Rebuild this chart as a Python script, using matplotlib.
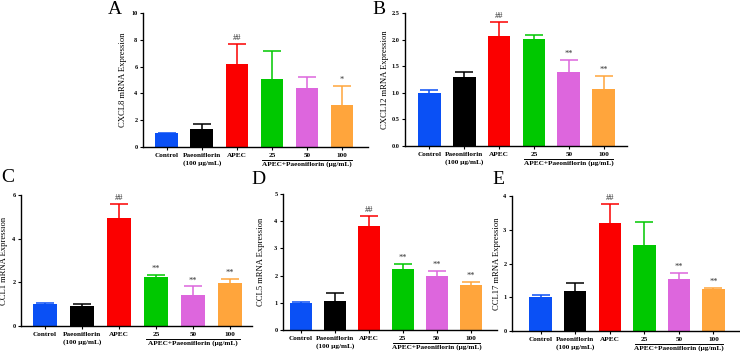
import matplotlib
matplotlib.use("Agg")
import matplotlib.pyplot as plt
from matplotlib.lines import Line2D

plt.rcParams['font.family'] = ['Liberation Serif', 'DejaVu Serif']
plt.rcParams['font.weight'] = 'bold'

# groups and colours
groups = ["Control", "Paeoniflorin\n(100 μg/mL)", "APEC", "25", "50", "100"]
colors = ["#0a50f5", "#000000", "#fb0000", "#00c800", "#dd66dd", "#ffa53c"]

# values (mean, upper error end)
cxcl8 = [1.02, 1.37, 6.17, 5.06, 4.44, 3.12]
cxcl8_top = [1.05, 1.69, 7.66, 7.20, 5.19, 4.54]
cxcl8_sig = ["", "", "##", "", "", "*"]

cxcl12 = [1.00, 1.29, 2.06, 2.02, 1.39, 1.075]
cxcl12_top = [1.06, 1.40, 2.33, 2.09, 1.61, 1.32]
cxcl12_sig = ["", "", "##", "", "**", "**"]

ccl1 = [0.99, 0.91, 4.93, 2.26, 1.41, 1.98]
ccl1_top = [1.07, 1.00, 5.60, 2.32, 1.81, 2.17]
ccl1_sig = ["", "", "##", "**", "**", "**"]

ccl5 = [1.00, 1.05, 3.84, 2.25, 1.98, 1.65]
ccl5_top = [1.03, 1.35, 4.19, 2.44, 2.16, 1.77]
ccl5_sig = ["", "", "##", "**", "**", "**"]

ccl17 = [1.00, 1.18, 3.21, 2.56, 1.53, 1.24]
ccl17_top = [1.06, 1.41, 3.76, 3.24, 1.71, 1.27]
ccl17_sig = ["", "", "##", "", "**", "**"]

W, H = 740, 353
fig = plt.figure(figsize=(W / 100, H / 100), dpi=100)


def panel(box, xlim, vals, tops, sig, ymax, ystep, ylabel, letter, letter_xy, ylab_dx, fmt="{:g}"):
    l, t, r, b = box
    ax = fig.add_axes([l / W, 1 - b / H, (r - l) / W, (b - t) / H])
    x = list(range(len(vals)))
    ax.bar(x, vals, width=0.65, color=colors, zorder=2)
    for i in x:
        eb = ax.errorbar(i, vals[i], yerr=[[0], [tops[i] - vals[i]]], color=colors[i],
                         capsize=6.5, elinewidth=1.1, capthick=1.1, zorder=1)
        eb[1][0].set_visible(False)  # only the upper cap
        if sig[i]:
            ax.text(i, tops[i] + ymax * 0.015, sig[i], ha='center', va='bottom',
                    fontsize=6, color='#333333', fontweight='normal')
    ax.set_xlim(*xlim)
    ax.set_ylim(0, ymax)
    ticks = [k * ystep for k in range(int(round(ymax / ystep)) + 1)]
    ax.set_yticks(ticks)
    ax.set_yticklabels([fmt.format(v) for v in ticks], fontsize=4.5)
    ax.set_xticks(x)
    ax.set_xticklabels(groups, fontsize=5.2, linespacing=1.5)
    ax.tick_params(axis='both', length=2.5, width=0.8, pad=1.5)
    for s in ['top', 'right']:
        ax.spines[s].set_visible(False)
    for s in ['left', 'bottom']:
        ax.spines[s].set_linewidth(1.0)
    ax.set_ylabel(ylabel, fontsize=6.2)
    ax.yaxis.set_label_coords(-ylab_dx / (r - l), 0.5)
    # bracket under the dose groups
    h = b - t
    tr = ax.get_xaxis_transform()
    ax.add_line(Line2D([2.72, 5.28], [-12.5 / h] * 2, transform=tr, color='black',
                       lw=0.7, clip_on=False))
    ax.text(4.0, -14 / h, "APEC+Paeoniflorin (μg/mL)", transform=tr, ha='center',
            va='top', fontsize=5.2)
    fig.text(letter_xy[0] / W, 1 - letter_xy[1] / H, letter, fontsize=14,
             fontweight='normal', ha='center', va='center')
    return ax


panel((143, 13, 368, 147), (-0.68, 5.74), cxcl8, cxcl8_top, cxcl8_sig, 10, 2,
      "CXCL8 mRNA Expression", "A", (115, 9), 16)
panel((405, 13, 627, 146), (-0.70, 5.67), cxcl12, cxcl12_top, cxcl12_sig, 2.5, 0.5,
      "CXCL12 mRNA Expression", "B", (379, 10), 16, fmt="{:.1f}")
panel((21, 195, 252, 326), (-0.65, 5.6), ccl1, ccl1_top, ccl1_sig, 6, 2,
      "CCL1 mRNA Expression", "C", (8, 178), 13)
panel((283, 194, 497, 330), (-0.52, 5.77), ccl5, ccl5_top, ccl5_sig, 5, 1,
      "CCL5 mRNA Expression", "D", (258, 180), 18)
panel((512, 196, 740, 331), (-0.83, 5.77), ccl17, ccl17_top, ccl17_sig, 4, 1,
      "CCL17 mRNA Expression", "E", (498, 180), 11)

fig.savefig("out.png", dpi=100)
